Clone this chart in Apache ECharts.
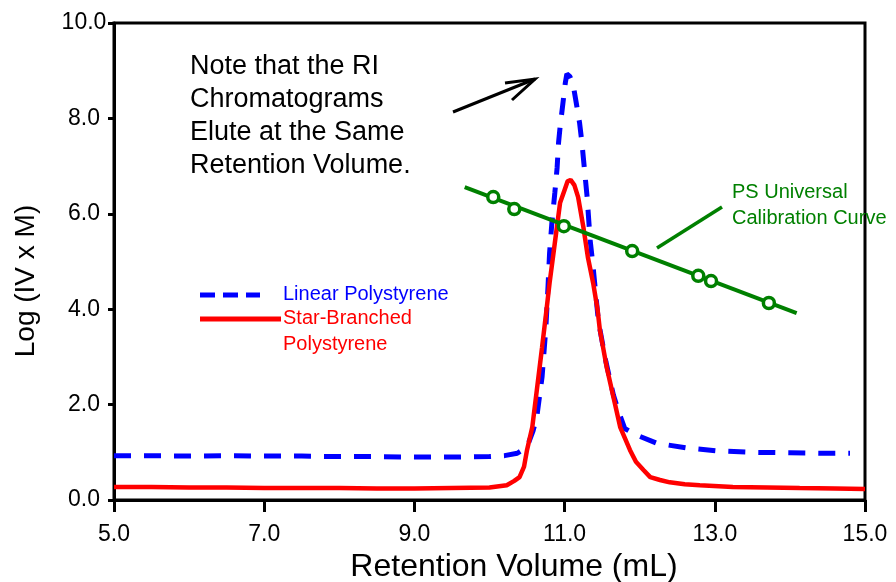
<!DOCTYPE html>
<html>
<head>
<meta charset="utf-8">
<script src="https://cdn.jsdelivr.net/npm/echarts@6/dist/echarts.min.js"></script>
<style>
html,body{margin:0;padding:0;background:#fff;}
#c{width:896px;height:582px;}
</style>
</head>
<body>
<div id="c"></div>
<script>
// ---- data ----
var xTicks = ['5.0','7.0','9.0','11.0','13.0','15.0'];
var yTicks = ['0.0','2.0','4.0','6.0','8.0','10.0'];

var linearPS = [
  [5.0,0.93],[5.5,0.93],[6.0,0.92],[6.5,0.93],[7.0,0.92],[7.5,0.92],[8.0,0.91],[8.5,0.91],
  [9.0,0.90],[9.5,0.90],[10.0,0.91],[10.2,0.93],[10.37,0.98],[10.5,1.11],[10.58,1.45],
  [10.63,1.74],[10.7,2.58],[10.75,3.6],[10.78,4.5],[10.8,5.18],[10.83,5.8],[10.87,6.44],
  [10.9,6.96],[10.92,7.5],[10.94,7.82],[10.98,8.35],[11.01,8.75],[11.03,8.93],[11.07,8.88],
  [11.11,8.74],[11.16,8.28],[11.2,7.9],[11.23,7.5],[11.25,7.17],[11.3,6.35],[11.34,5.45],
  [11.38,4.88],[11.45,3.75],[11.55,2.9],[11.65,2.2],[11.72,1.85],[11.8,1.5],[11.96,1.36],
  [12.23,1.19],[12.63,1.09],[13.03,1.03],[13.5,1.0],[14.0,0.99],[14.5,0.98],[14.8,0.98]
];

var starPS = [
  [5.0,0.27],[5.5,0.27],[6.0,0.26],[6.5,0.26],[7.0,0.25],[7.5,0.25],[8.0,0.25],[8.5,0.24],
  [9.0,0.24],[9.5,0.25],[10.0,0.26],[10.23,0.31],[10.33,0.4],[10.4,0.48],[10.46,0.7],
  [10.5,1.05],[10.57,1.53],[10.63,2.3],[10.7,3.2],[10.76,4.0],[10.8,4.55],[10.87,5.39],
  [10.94,6.23],[11.0,6.5],[11.04,6.68],[11.08,6.71],[11.13,6.6],[11.18,6.35],[11.25,5.72],
  [11.31,5.09],[11.38,4.55],[11.44,3.98],[11.47,3.56],[11.56,2.79],[11.65,2.16],[11.74,1.53],
  [11.87,1.05],[11.95,0.8],[12.05,0.63],[12.14,0.48],[12.27,0.42],[12.4,0.37],[12.6,0.33],
  [12.8,0.31],[13.24,0.27],[13.7,0.26],[14.13,0.25],[14.6,0.24],[15.0,0.23]
];

var calibLine = [[9.67,6.56],[14.09,3.92]];
var calibPoints = [[10.05,6.35],[10.33,6.1],[10.99,5.74],[11.9,5.22],[12.78,4.7],[12.95,4.59],[13.72,4.13]];

var FONT = '"Liberation Sans", Arial, Helvetica, sans-serif';
var GREEN = '#008000';

var chart = echarts.init(document.getElementById('c'), null, {renderer:'canvas'});
chart.setOption({
  animation: false,
  backgroundColor: '#fff',
  grid: {left:114, right:31, top:23, bottom:82, show:true, borderColor:'#000', borderWidth:3, backgroundColor:'transparent'},
  xAxis: {
    type:'value', min:5, max:15, interval:2,
    axisLine:{show:true, onZero:false, lineStyle:{color:'#000', width:3}},
    axisTick:{show:true, inside:false, length:12, lineStyle:{color:'#000', width:3}},
    axisLabel:{color:'#000', fontSize:23, fontFamily:FONT, margin:23,
      formatter:function(v){ return xTicks[Math.round((v-5)/2)]; }},
    splitLine:{show:false}
  },
  yAxis: {
    type:'value', min:0, max:10, interval:2,
    axisLine:{show:true, onZero:false, lineStyle:{color:'#000', width:3}},
    axisTick:{show:true, inside:false, length:6, lineStyle:{color:'#000', width:3}},
    axisLabel:{color:'#000', fontSize:23, fontFamily:FONT, margin:30, align:'center',
      formatter:function(v){ return yTicks[Math.round(v/2)]; }},
    splitLine:{show:false}
  },
  series: [
    {type:'line', name:'Linear Polystyrene', data:linearPS, showSymbol:false, smooth:false,
     lineStyle:{color:'#0000ff', width:5, type:[17,13]}, z:2},
    {type:'line', name:'Star-Branched Polystyrene', data:starPS, showSymbol:false, smooth:false,
     lineStyle:{color:'#ff0000', width:4.5}, z:3},
    {type:'line', name:'PS Universal Calibration Curve', data:calibLine, showSymbol:false,
     lineStyle:{color:GREEN, width:4}, z:4},
    {type:'scatter', name:'calib', data:calibPoints, symbol:'circle', symbolSize:11,
     itemStyle:{color:'#fff', borderColor:GREEN, borderWidth:3.5, opacity:1}, z:5}
  ],
  graphic: [
    // axis titles
    {type:'text', x:514, y:567, style:{text:'Retention Volume (mL)', font:'32px '+FONT, fill:'#000', align:'center', verticalAlign:'middle'}},
    {type:'text', x:26, y:281, rotation:Math.PI/2, style:{text:'Log (IV x M)', font:'28px '+FONT, fill:'#000', align:'center', verticalAlign:'middle'}},
    // note
    {type:'text', x:190, y:50, style:{text:'Note that the RI\nChromatograms\nElute at the Same\nRetention Volume.', font:'27px '+FONT, fill:'#000', lineHeight:33, align:'left', verticalAlign:'top'}},
    {type:'line', shape:{x1:453, y1:112, x2:535, y2:79}, style:{stroke:'#000', lineWidth:3}},
    {type:'polyline', shape:{points:[[505,83],[535,79],[512,100]]}, style:{stroke:'#000', lineWidth:3, fill:null}},
    // calibration label
    {type:'text', x:732, y:179, z:100, style:{text:'PS Universal\nCalibration Curve', font:'20px '+FONT, fill:GREEN, lineHeight:26, align:'left', verticalAlign:'top'}},
    {type:'line', shape:{x1:657, y1:248, x2:722, y2:207}, style:{stroke:GREEN, lineWidth:3.5}},
    // legend
    {type:'line', shape:{x1:200, y1:295, x2:260, y2:295}, style:{stroke:'#0000ff', lineWidth:5, lineDash:[15,8]}},
    {type:'text', x:283, y:294, style:{text:'Linear Polystyrene', font:'20px '+FONT, fill:'#0000ff', align:'left', verticalAlign:'middle'}},
    {type:'line', shape:{x1:200, y1:319, x2:281, y2:319}, style:{stroke:'#ff0000', lineWidth:5}},
    {type:'text', x:283, y:305, style:{text:'Star-Branched\nPolystyrene', font:'20px '+FONT, fill:'#ff0000', lineHeight:26, align:'left', verticalAlign:'top'}}
  ]
});
</script>
</body>
</html>
